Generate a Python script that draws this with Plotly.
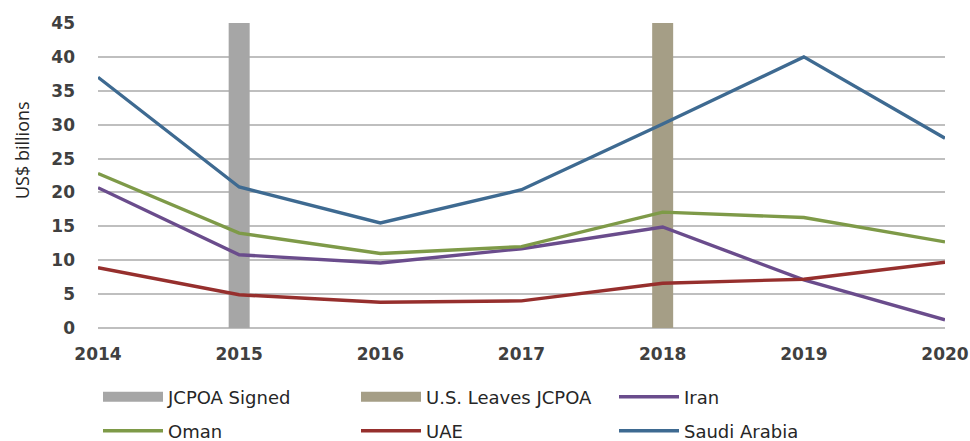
import plotly.graph_objects as go

years = [2014, 2015, 2016, 2017, 2018, 2019, 2020]
iran = [20.7, 10.8, 9.6, 11.7, 14.9, 7.1, 1.2]
oman = [22.8, 14.0, 11.0, 12.0, 17.1, 16.3, 12.7]
uae = [8.9, 4.9, 3.8, 4.0, 6.6, 7.2, 9.7]
saudi = [37.0, 20.8, 15.5, 20.4, 30.1, 40.0, 28.0]

event_names = ["JCPOA Signed", "U.S. Leaves JCPOA"]
event_years = [2015, 2018]
event_range = [0, 45]

font_fam = "DejaVu Sans"
fig = go.Figure()

event_colors = ["#A6A6A6", "#A59E86"]
for name, yr, col in zip(event_names, event_years, event_colors):
    fig.add_trace(go.Scatter(x=[yr, yr], y=event_range, name=name, mode="lines",
                             line=dict(color=col, width=21), legend="legend",
                             hoverinfo="skip"))

line_w = 3.4
fig.add_trace(go.Scatter(x=years, y=iran, name="Iran", mode="lines",
                         line=dict(color="#6A4C8C", width=line_w), legend="legend"))
fig.add_trace(go.Scatter(x=years, y=oman, name="Oman", mode="lines",
                         line=dict(color="#7E9A48", width=line_w), legend="legend2"))
fig.add_trace(go.Scatter(x=years, y=uae, name="UAE", mode="lines",
                         line=dict(color="#962F2D", width=line_w), legend="legend2"))
fig.add_trace(go.Scatter(x=years, y=saudi, name="Saudi Arabia", mode="lines",
                         line=dict(color="#3E6A91", width=line_w), legend="legend2"))

leg_common = dict(orientation="h", entrywidth=183, entrywidthmode="pixels",
                  itemwidth=60, font=dict(family=font_fam, size=18, color="#262626"),
                  bgcolor="rgba(0,0,0,0)", xanchor="left", yanchor="middle",
                  traceorder="normal")

# plot area at x 98..945, y 23..328
fig.update_layout(
    width=970, height=441,
    margin=dict(l=98, r=25, t=23, b=113, autoexpand=False),
    paper_bgcolor="white", plot_bgcolor="white",
    font=dict(family=font_fam, color="#404040"),
    legend=dict(x=0.0, y=(328 - 397) / 305, **leg_common),
    legend2=dict(x=0.0, y=(328 - 431) / 305, **leg_common),
    xaxis=dict(range=[2014, 2020], tickmode="array", tickvals=years,
               ticktext=[str(y) for y in years], showgrid=False, zeroline=False,
               showline=False, ticks="", ticklabelstandoff=14,
               tickfont=dict(family=font_fam, size=17, color="#404040", weight="bold")),
    yaxis=dict(range=[0, 45], dtick=5, showgrid=True, gridcolor="#BFBFBF", gridwidth=1.5,
               zeroline=True, zerolinecolor="#BFBFBF", zerolinewidth=1.5,
               showline=False, ticks="", ticklabelstandoff=22,
               tickfont=dict(family=font_fam, size=17, color="#404040", weight="bold")),
    annotations=[dict(text="US$ billions", textangle=-90,
                      x=(22 - 98) / 847, y=(328 - 150) / 305,
                      xref="paper", yref="paper", showarrow=False,
                      xanchor="center", yanchor="middle",
                      font=dict(family="Open Sans", size=18, color="#262626"))],
)

fig.write_html("out.html", config={"displayModeBar": False},
               post_script="document.body.style.margin='0';document.body.style.overflow='hidden';")
